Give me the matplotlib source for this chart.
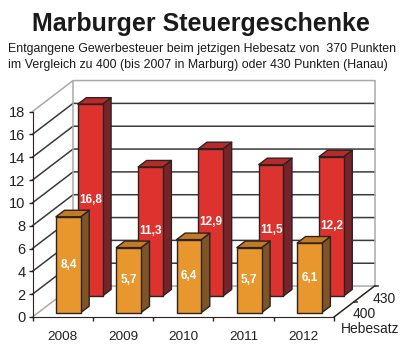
import matplotlib
matplotlib.use('Agg')
import matplotlib.pyplot as plt
from matplotlib.patches import Polygon

years = ['2008', '2009', '2010', '2011', '2012']
values_400 = [8.4, 5.7, 6.4, 5.7, 6.1]
values_430 = [16.8, 11.3, 12.9, 11.5, 12.2]
labels_400 = ['8,4', '5,7', '6,4', '5,7', '6,1']
labels_430 = ['16,8', '11,3', '12,9', '11,5', '12,2']
depth_labels = ['400', '430']
y_ticks = list(range(0, 20, 2))

# shear of the fake 3D depth, in data units per full depth
DX = 0.672
DY = 2.71
BAR_W = 0.41
DARK = '#2b2320'
GREY = '#a9a9a9'


def proj(x, y, d):
    return (x + d * DX, y + d * DY)


def draw_bar(ax, i, val, d0, d1, front, top, side, label):
    x0 = i + 0.5 - BAR_W / 2
    x1 = i + 0.5 + BAR_W / 2
    faces = [
        ([proj(x1, 0, d0), proj(x1, 0, d1), proj(x1, val, d1), proj(x1, val, d0)], side),
        ([proj(x0, val, d0), proj(x1, val, d0), proj(x1, val, d1), proj(x0, val, d1)], top),
        ([proj(x0, 0, d0), proj(x1, 0, d0), proj(x1, val, d0), proj(x0, val, d0)], front),
    ]
    for pts, col in faces:
        ax.add_patch(Polygon(pts, closed=True, facecolor=col, edgecolor=DARK,
                             linewidth=1.0, joinstyle='round', clip_on=False, zorder=3))
    cx, cy = proj(i + 0.5, val / 2, d0)
    ax.text(cx, cy, label, color='white', fontsize=8.5, fontweight='bold',
            family='Liberation Sans', ha='center', va='center', zorder=4)


fig = plt.figure(figsize=(4.08, 3.53), dpi=100)
ax = fig.add_axes([32.5 / 408, 36 / 353, 301.5 / 408, 205.5 / 353])
ax.set_xlim(0, len(years))
ax.set_ylim(0, 18)
ax.patch.set_visible(False)

# walls and grid
n = len(years)
for v in y_ticks:
    col = GREY if v in (0, 18) else '#3a3a3a'
    xs, ys = zip(proj(0, v, 0), proj(0, v, 1), proj(n, v, 1))
    ax.plot(xs, ys, color=col, lw=1.1, clip_on=False, zorder=1)
xs, ys = zip(proj(0, 0, 1), proj(0, 18, 1))
ax.plot(xs, ys, color=GREY, lw=1.1, clip_on=False, zorder=1)
xs, ys = zip(proj(n, 0, 1), proj(n, 18, 1))
ax.plot(xs, ys, color=GREY, lw=1.1, clip_on=False, zorder=1)

# depth axis
xs, ys = zip(proj(n, 0, 0), proj(n, 0, 1))
ax.plot(xs, ys, color=DARK, lw=1.1, clip_on=False, zorder=2)
for d in (0.5, 1.0):
    xs, ys = zip(proj(n, 0, d), proj(n + 0.05, 0, d))
    ax.plot(xs, ys, color=DARK, lw=1.1, clip_on=False, zorder=2)
for lab, d in zip(depth_labels, (0.25, 0.75)):
    x, y = proj(n + 0.14, -0.45, d)
    ax.text(x, y, lab, fontsize=10, family='Liberation Sans', color='#222222',
            ha='left', va='center', clip_on=False)
x, y = proj(n, -1.05, 0)
ax.text(x + 0.12, y, 'Hebesatz', fontsize=10, family='Liberation Sans', color='#222222',
        ha='left', va='center')

for i in range(n):
    draw_bar(ax, i, values_430[i], 0.68, 0.89, '#dd322e', '#b82a2a', '#7a2229', labels_430[i])
for i in range(n):
    draw_bar(ax, i, values_400[i], 0.14, 0.35, '#e8962e', '#c47a25', '#7f5426', labels_400[i])

ax.spines['top'].set_visible(False)
ax.spines['right'].set_visible(False)
ax.spines['left'].set_color(DARK)
ax.spines['bottom'].set_color(DARK)
ax.spines['left'].set_zorder(5)
ax.spines['bottom'].set_zorder(5)
ax.set_yticks(y_ticks)
ax.set_xticks(range(n + 1))
ax.set_xticklabels([])
ax.set_xticks([i + 0.5 for i in range(n)], minor=True)
ax.set_xticklabels(years, minor=True)
ax.tick_params(axis='x', which='minor', length=0, pad=10, labelsize=9.7, labelcolor='#222222')
ax.tick_params(axis='x', which='major', length=3, width=1, color=DARK)
ax.tick_params(axis='y', length=3, width=1, color=DARK, pad=2, labelsize=10.5, labelcolor='#222222')
for t in ax.get_yticklabels() + ax.get_xticklabels(minor=True):
    t.set_family('Liberation Sans')

fig.text(0.492, 1 - 24 / 353, 'Marburger Steuergeschenke', fontsize=18, fontweight='bold',
         family='Liberation Sans', color='#1a1a1a', ha='center', va='center')
fig.text(8 / 408, 1 - 49 / 353, 'Entgangene Gewerbesteuer beim jetzigen Hebesatz von  370 Punkten',
         fontsize=8.9, family='Liberation Sans', color='#1a1a1a', ha='left', va='center')
fig.text(8 / 408, 1 - 65 / 353, 'im Vergleich zu 400 (bis 2007 in Marburg) oder 430 Punkten (Hanau)',
         fontsize=8.95, family='Liberation Sans', color='#1a1a1a', ha='left', va='center')

fig.savefig('out.png', dpi=100)
plt.close(fig)
